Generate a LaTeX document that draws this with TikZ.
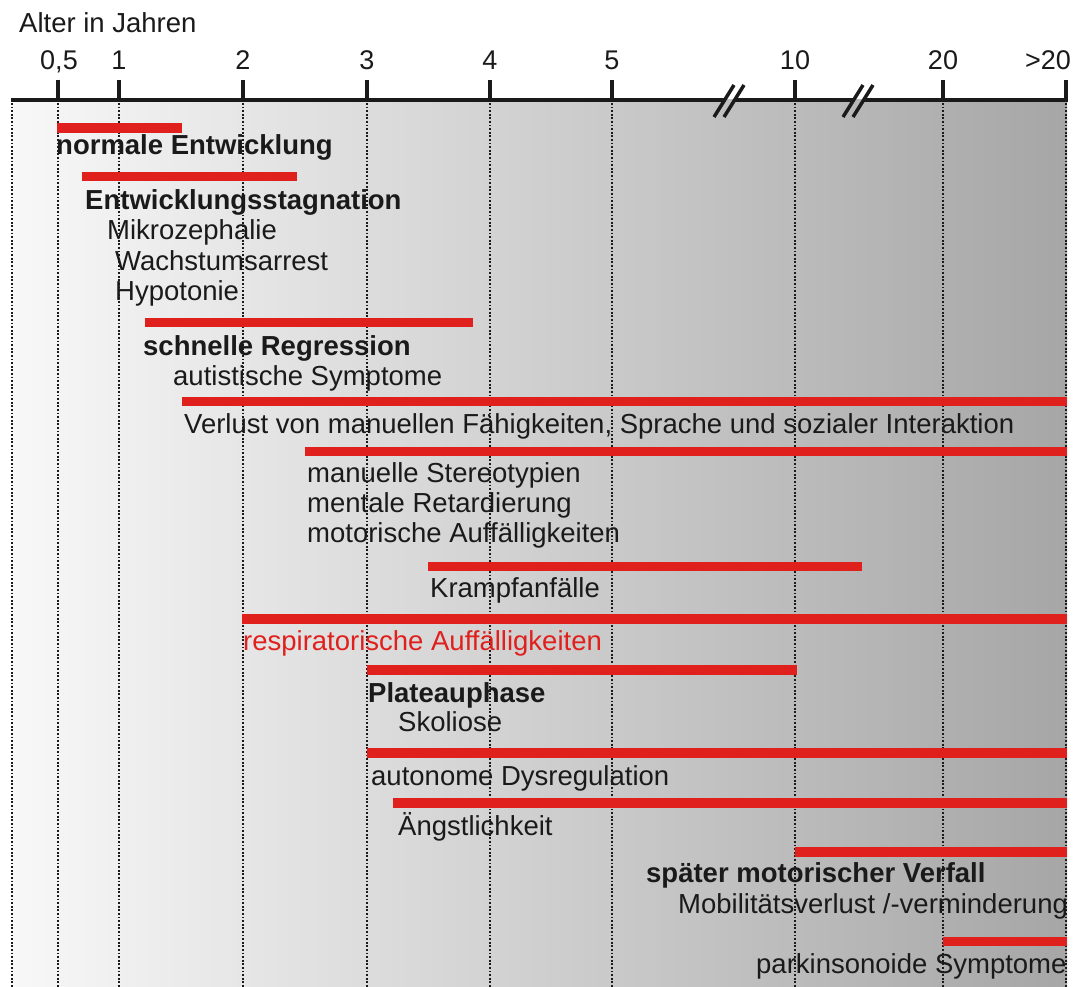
\documentclass[tikz,border=0pt]{standalone}
\usepackage{fontspec}
\setmainfont{Liberation Sans}
\definecolor{barred}{RGB}{224,32,28}
\definecolor{txt}{RGB}{26,26,26}
\definecolor{bgleft}{RGB}{248,248,248}
\definecolor{bgright}{RGB}{166,166,166}
\begin{document}
\begin{tikzpicture}[x=1pt,y=-1pt,
  lbl/.style={anchor=base west, inner sep=0pt, text=txt, font=\fontsize{27.5}{32}\selectfont},
  head/.style={lbl, font=\fontsize{27.5}{32}\selectfont\bfseries},
  redlbl/.style={lbl, text=barred},
  ticklbl/.style={anchor=base, inner sep=0pt, text=txt, font=\fontsize{27}{30}\selectfont},
  redbar/.style={draw=barred, line width=9.5pt},
  gridline/.style={line width=2pt, dash pattern=on 1.8pt off 1.8pt, draw=txt},
  tickmark/.style={line width=3.5pt, draw=txt},
  axisline/.style={line width=4pt, draw=txt},
  brk/.style={line width=3.5pt, draw=txt}]
\useasboundingbox (0,0) rectangle (1090,987);
\fill[white] (0,0) rectangle (1090,987);
\shade[left color=bgleft, right color=bgright] (12,100) rectangle (1067,987);
% grid
\foreach \gx in {12,58,119,243,367,490,612,795,943,1066}
  \draw[gridline] (\gx,103) -- (\gx,987);
% axis
\draw[axisline] (11,100) -- (724.5,100);
\draw[axisline] (734.5,100) -- (853.5,100);
\draw[axisline] (863.5,100) -- (1067.5,100);
\foreach \bx in {724,734,853,863}
  \draw[brk] (\bx-10,117) -- (\bx+10,85);
\foreach \tx in {58,119,243,367,490,612,795,943,1066}
  \draw[tickmark] (\tx,80) -- (\tx,100);
\node[lbl] (title) at (19,33) {Alter in Jahren};
\node[ticklbl] (t05) at (59,70) {0,5};
\node[ticklbl] (t1) at (119,70) {1};
\node[ticklbl] (t2) at (243,70) {2};
\node[ticklbl] (t3) at (367,70) {3};
\node[ticklbl] (t4) at (490,70) {4};
\node[ticklbl] (t5) at (612,70) {5};
\node[ticklbl] (t10) at (795,70) {10};
\node[ticklbl] (t20) at (943,70) {20};
\node[ticklbl, anchor=base east] (t20p) at (1071,70) {>20};
% bars
\draw[redbar] (57,128) -- (182,128);
\draw[redbar] (82,176.5) -- (297,176.5);
\draw[redbar] (145,322.5) -- (473,322.5);
\draw[redbar] (182,401.5) -- (1067,401.5);
\draw[redbar] (305,451.5) -- (1067,451.5);
\draw[redbar] (428,566.5) -- (862,566.5);
\draw[redbar] (242,619) -- (1067,619);
\draw[redbar] (367,670) -- (797,670);
\draw[redbar] (367,753) -- (1067,753);
\draw[redbar] (393,803) -- (1067,803);
\draw[redbar] (795,852) -- (1067,852);
\draw[redbar] (943,941.5) -- (1067,941.5);
% labels
\node[head] (a1) at (56,155) {normale Entwicklung};
\node[head] (a2) at (85,210) {Entwicklungsstagnation};
\node[lbl] (a3) at (107,240) {Mikrozephalie};
\node[lbl] (a4) at (115,270) {Wachstumsarrest};
\node[lbl] (a5) at (115,300) {Hypotonie};
\node[head] (a6) at (143,355) {schnelle Regression};
\node[lbl] (a7) at (173,385) {autistische Symptome};
\node[lbl] (a8) at (184,433) {Verlust von manuellen Fähigkeiten, Sprache und sozialer Interaktion};
\node[lbl] (a9) at (307,482) {manuelle Stereotypien};
\node[lbl] (a10) at (307,512) {mentale Retardierung};
\node[lbl] (a11) at (307,542) {motorische Auffälligkeiten};
\node[lbl] (a12) at (430,597) {Krampfanfälle};
\node[redlbl] (a13) at (243,650) {respiratorische Auffälligkeiten};
\node[head] (a14) at (368,702) {Plateauphase};
\node[lbl] (a15) at (398,731) {Skoliose};
\node[lbl] (a16) at (371,785) {autonome Dysregulation};
\node[lbl] (a17) at (398,835) {Ängstlichkeit};
\node[head] (a18) at (646,882) {später motorischer Verfall};
\node[lbl] (a19) at (678,913) {Mobilitätsverlust /-verminderung};
\node[lbl] (a20) at (756,973) {parkinsonoide Symptome};
\end{tikzpicture}
\end{document}
